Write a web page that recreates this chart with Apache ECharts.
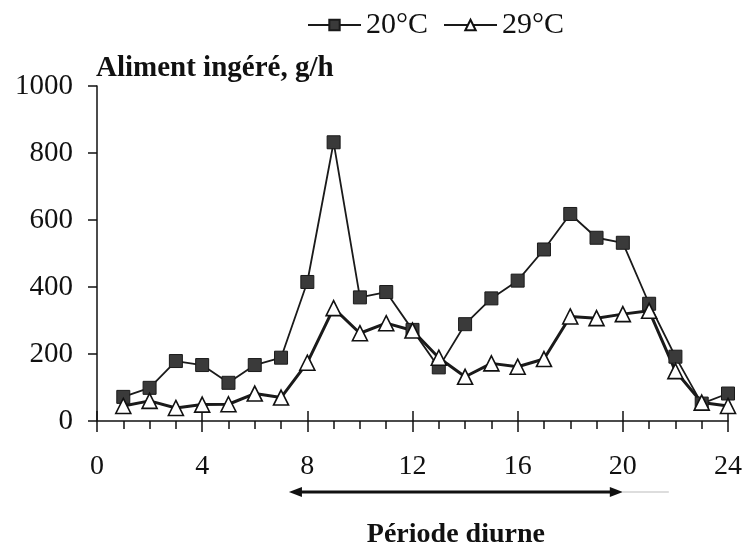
<!DOCTYPE html>
<html><head><meta charset="utf-8">
<script src="https://cdn.jsdelivr.net/npm/echarts@6/dist/echarts.min.js"></script>
<style>html,body{margin:0;padding:0;background:#fff}#c{width:745px;height:546px}</style>
</head><body><div id="c"></div>
<script>
const hours = [1,2,3,4,5,6,7,8,9,10,11,12,13,14,15,16,17,18,19,20,21,22,23,24];
const temp20 = [72,99,179,167,114,167,189,415,832,369,385,272,160,289,366,419,512,618,547,532,350,192,52,82];
const temp29 = [45,60,39,49,50,82,70,174,337,262,292,270,189,132,172,162,185,312,307,319,329,149,55,45];
const seriesNames = ['20°C','29°C'];
const yTitle = 'Aliment ingéré, g/h';
const periodLabel = 'Période diurne';
const diurnal = [7.3, 20];
const xLabelStep = 4;

const FONT = 'Liberation Serif';
const INK = '#111';
const chart = echarts.init(document.getElementById('c'), null, {renderer:'canvas'});

const pairs = a => hours.map((h,i)=>[h,a[i]]);
const tickStyle = {color:INK,width:1.5};

const option = {
  backgroundColor:'#fff',
  animation:false,
  title:{text:yTitle,left:96,top:54,padding:0,
    textStyle:{fontFamily:FONT,fontWeight:'bold',fontSize:29,color:INK}},
  legend:{data:seriesNames,left:302,top:5,itemWidth:53,itemHeight:13,itemGap:15,
    textStyle:{fontFamily:FONT,fontSize:30,color:INK}},
  grid:{left:97,right:17,top:86,bottom:125,containLabel:false},
  xAxis:[{
    type:'value',min:0,max:24,interval:1,position:'bottom',
    axisLine:{show:true,onZero:false,lineStyle:{color:INK,width:1.5}},
    axisTick:{show:true,inside:false,length:8,lineStyle:tickStyle},
    axisLabel:{fontFamily:FONT,fontSize:28,color:INK,margin:32,
      formatter:v=> (v % xLabelStep === 0 ? String(v) : '')},
    splitLine:{show:false}
  },{
    type:'value',min:0,max:24,interval:xLabelStep,position:'bottom',offset:0,
    axisLine:{show:false,onZero:false},
    axisTick:{show:true,inside:true,length:10,lineStyle:tickStyle},
    axisLabel:{show:false},splitLine:{show:false}
  },{
    type:'value',min:0,max:24,interval:xLabelStep,position:'bottom',offset:0,
    axisLine:{show:false,onZero:false},
    axisTick:{show:true,inside:false,length:11,lineStyle:tickStyle},
    axisLabel:{show:false},splitLine:{show:false}
  }],
  yAxis:{
    type:'value',min:0,max:1000,interval:200,
    axisLine:{show:true,lineStyle:{color:INK,width:1.5}},
    axisTick:{show:true,length:9,lineStyle:tickStyle},
    axisLabel:{fontFamily:FONT,fontSize:29,color:INK,margin:24,formatter:v=>String(v)},
    splitLine:{show:false}
  },
  series:[{
    name:seriesNames[0],type:'line',data:pairs(temp20),
    symbol:'rect',symbolSize:13,
    lineStyle:{color:'#1a1a1a',width:1.8},
    itemStyle:{color:'#3a3a3a',borderColor:'#1a1a1a',borderWidth:1}
  },{
    name:seriesNames[1],type:'line',data:pairs(temp29),
    symbol:'triangle',symbolSize:15,
    lineStyle:{color:'#1a1a1a',width:3},
    itemStyle:{color:'#fff',borderColor:'#111',borderWidth:1.6}
  }]
};
chart.setOption(option);

const p0 = chart.convertToPixel({gridIndex:0},[diurnal[0],0]);
const p1 = chart.convertToPixel({gridIndex:0},[diurnal[1],0]);
const ay = p0[1] + 71;
const x0 = p0[0], x1 = p1[0];
chart.setOption({graphic:[
  {type:'line',shape:{x1:x1,y1:ay,x2:x1+46,y2:ay},style:{stroke:'#bbb',lineWidth:1}},
  {type:'line',shape:{x1:x0+8,y1:ay,x2:x1-8,y2:ay},style:{stroke:INK,lineWidth:3}},
  {type:'polygon',shape:{points:[[x0,ay],[x0+13,ay-5],[x0+13,ay+5]]},style:{fill:INK}},
  {type:'polygon',shape:{points:[[x1,ay],[x1-13,ay-5],[x1-13,ay+5]]},style:{fill:INK}},
  {type:'text',x:(x0+x1)/2,y:ay+43,style:{text:periodLabel,fontFamily:FONT,fontWeight:'bold',fontSize:28,fill:INK,align:'center',verticalAlign:'middle'}}
]});
</script></body></html>
